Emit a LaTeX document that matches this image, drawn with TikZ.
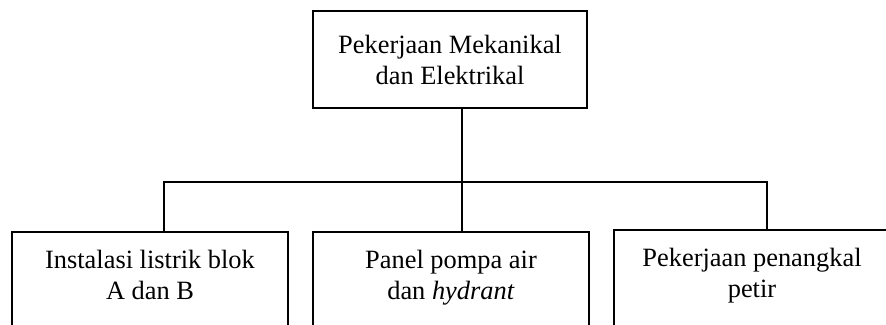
\documentclass[tikz,border=0pt]{standalone}
\usepackage{fontspec}
\setmainfont{Liberation Serif}
\usepackage{tikz}
\tikzstyle{block} = [rectangle, draw=black, line width=1pt, align=center, font=\fontsize{13.2}{15.5}\selectfont]
\tikzstyle{subblock} = [block, minimum width=138pt, minimum height=50pt, text depth=7pt]
\tikzstyle{line} = [line width=1pt]

\begin{document}
\begin{tikzpicture}[x=0.5pt, y=-0.5pt]
\clip (0,0) rectangle (886,325);
\node (mek) [block, minimum width=137pt, minimum height=48.5pt] at (450,59.5) {Pekerjaan Mekanikal\\dan Elektrikal};
\node (inst) [subblock] at (150,282) {Instalasi listrik blok\\A dan B};
\node (pnl) [subblock] at (451,282) {Panel pompa air\\dan \textit{hydrant}};
\node (ptr) [subblock] at (752,280) {Pekerjaan penangkal\\petir};
\coordinate (bus) at (462,182);

\draw [line] ([xshift=6pt]mek.south) -- (bus);
\draw [line] ([xshift=7pt]inst.north) |- (bus) -| ([xshift=7.5pt]ptr.north);
\draw [line] (bus) -- ([xshift=5.5pt]pnl.north);
\end{tikzpicture}
\end{document}
